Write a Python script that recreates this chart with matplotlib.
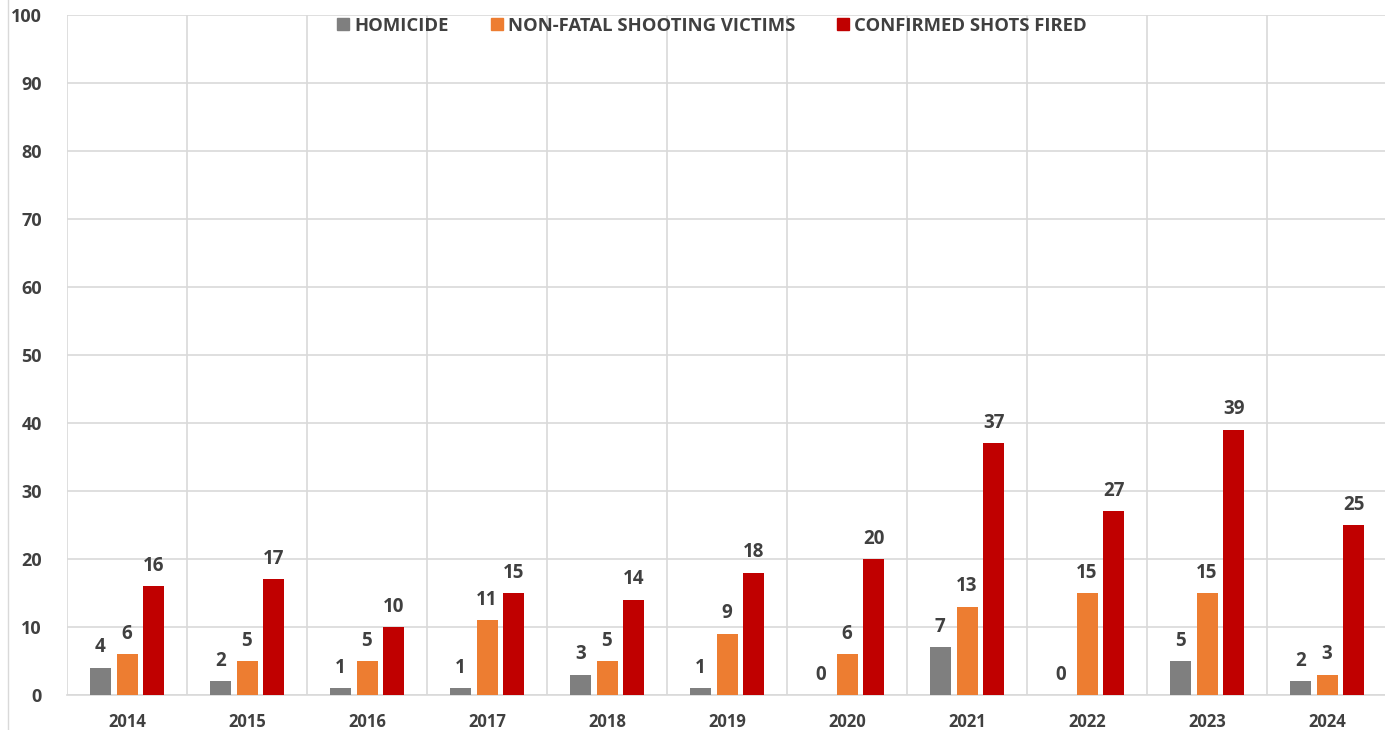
import matplotlib.pyplot as plt
import numpy as np
from matplotlib.lines import Line2D

plt.rcParams["font.family"] = ["Open Sans", "DejaVu Sans"]

years = ["2014", "2015", "2016", "2017", "2018", "2019", "2020", "2021", "2022", "2023", "2024"]
homicide = [4, 2, 1, 1, 3, 1, 0, 7, 0, 5, 2]
non_fatal = [6, 5, 5, 11, 5, 9, 6, 13, 15, 15, 3]
shots_fired = [16, 17, 10, 15, 14, 18, 20, 37, 27, 39, 25]

series_names = ["HOMICIDE", "NON-FATAL SHOOTING VICTIMS", "CONFIRMED SHOTS FIRED"]
colors = ["#7f7f7f", "#ed7d31", "#c00000"]
text_color = "#404040"
grid_color = "#d9d9d9"

fig = plt.figure(figsize=(13.85, 7.3), dpi=100)
ax = fig.add_axes([67 / 1385, 1 - 695 / 730, 1320 / 1385, 680 / 730])

x = np.arange(len(years))
width = 0.175
step = 0.222

for i, (vals, c) in enumerate(zip([homicide, non_fatal, shots_fired], colors)):
    pos = x + (i - 1) * step
    ax.bar(pos, vals, width=width, color=c, zorder=3)
    for px, v in zip(pos, vals):
        ax.annotate(str(v), (px, v), xytext=(0, 7.5), textcoords="offset points",
                    ha="center", va="bottom", fontsize=13.5, fontweight="bold",
                    color=text_color)

ax.set_xlim(-0.5, len(years) - 0.5)
ax.set_ylim(0, 100)
ax.set_yticks(range(0, 101, 10))
ax.set_xticks(x)
ax.set_xticklabels(years)
ax.set_xticks(np.arange(-0.5, len(years), 1), minor=True)

ax.grid(axis="y", which="major", color=grid_color, linewidth=1.2, zorder=0)
ax.grid(axis="x", which="minor", color=grid_color, linewidth=1.2, zorder=0)
ax.tick_params(axis="both", which="both", length=0)
ax.tick_params(axis="x", pad=13)
ax.tick_params(axis="y", pad=18)
for lab in ax.get_xticklabels():
    lab.set_fontweight("bold")
    lab.set_fontsize(12)
    lab.set_color(text_color)
for lab in ax.get_yticklabels():
    lab.set_fontweight("bold")
    lab.set_fontsize(13)
    lab.set_color(text_color)

for s in ["top", "right", "left"]:
    ax.spines[s].set_visible(False)
ax.spines["bottom"].set_color(grid_color)
ax.spines["bottom"].set_linewidth(1.2)

handles = [Line2D([0], [0], marker="s", linestyle="", markersize=9,
                  markerfacecolor=c, markeredgecolor=c) for c in colors]
leg = ax.legend(handles, series_names, loc="center", bbox_to_anchor=(0.489, 0.984),
                ncol=3, frameon=False, handlelength=0.6, handletextpad=0.3,
                columnspacing=2.3, prop={"weight": "bold", "size": 13.3})
for t in leg.get_texts():
    t.set_color(text_color)

fig.add_artist(Line2D([8 / 1385, 8 / 1385], [0, 1], color=grid_color, linewidth=1))

fig.savefig("out.png", dpi=100)
